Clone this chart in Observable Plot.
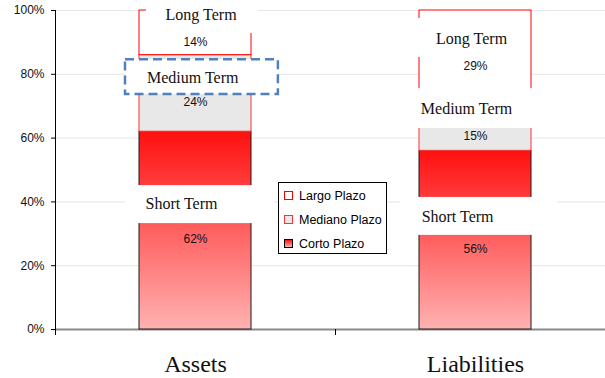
<!DOCTYPE html>
<html>
<head>
<meta charset="utf-8">
<script src="https://cdn.jsdelivr.net/npm/d3@7"></script>
<script src="https://cdn.jsdelivr.net/npm/@observablehq/plot@0.6"></script>
<style>
  html, body { margin: 0; padding: 0; background: #fff; }
  #chart { position: relative; width: 605px; height: 378px; }
  .legend {
    position: absolute; left: 278px; top: 182px; width: 107px; height: 70px;
    border: 1px solid #000; background: #fff;
    font-family: "Liberation Sans", Arial, sans-serif; font-size: 12.5px; color: #000;
  }
  .legend .row { position: absolute; left: 5px; height: 14px; line-height: 14px; white-space: nowrap; }
  .legend .sw { display: inline-block; width: 7px; height: 7px; margin-right: 6px; }
</style>
</head>
<body>
<div id="chart"></div>
<script>
// Balance structure by maturity (% of total)
const categories = ["Assets", "Liabilities"];
const terms = ["Short Term", "Medium Term", "Long Term"];
const shortTerm = [62, 56];
const mediumTerm = [24, 15];
const longTerm = [14, 29];
const yTicks = [0, 20, 40, 60, 80, 100];
const legendLabels = ["Largo Plazo", "Mediano Plazo", "Corto Plazo"];

const seriesByTerm = {"Short Term": shortTerm, "Medium Term": mediumTerm, "Long Term": longTerm};

// stacked rows: one rectangle per category and maturity
const rows = [];
categories.forEach((cat, i) => {
  let base = 0;
  for (const term of terms) {
    const value = seriesByTerm[term][i];
    rows.push({cat, i, term, value, y1: base, y2: base + value});
    base += value;
  }
});

const fills = {"Short Term": "url(#shortFill)", "Medium Term": "#e8e8e8", "Long Term": "#ffffff"};
const strokes = {"Short Term": "#1a1a1a", "Medium Term": "#ff3030", "Long Term": "#ff0000"};
const halfWidth = 0.2;

// white caption boxes placed over the bars
const captions = [
  {text: "Long Term",   x1: 0.325, x2: 0.725, y1: 92.8, y2: 103,  tx: 0.52,  ty: 98.7, dashed: false},
  {text: "Medium Term", x1: 0.25,  x2: 0.796, y1: 73.7, y2: 84.6, tx: 0.49,  ty: 79.0, dashed: true},
  {text: "Short Term",  x1: 0.25,  x2: 0.78,  y1: 33.2, y2: 45.1, tx: 0.45,  ty: 39.5, dashed: false},
  {text: "Long Term",   x1: 1.286, x2: 1.689, y1: 85.3, y2: 97.5, tx: 1.486, ty: 91.2, dashed: false},
  {text: "Medium Term", x1: 1.25,  x2: 1.75,  y1: 63.0, y2: 75.5, tx: 1.468, ty: 69.3, dashed: false},
  {text: "Short Term",  x1: 1.232, x2: 1.793, y1: 29.5, y2: 41.4, tx: 1.436, ty: 35.4, dashed: false}
];

const gradientDefs = () => {
  const defs = d3.create("svg:defs");
  const lg = defs.append("linearGradient")
    .attr("id", "shortFill").attr("x1", 0).attr("y1", 0).attr("x2", 0).attr("y2", 1);
  lg.append("stop").attr("offset", "0%").attr("stop-color", "#ff1010");
  lg.append("stop").attr("offset", "100%").attr("stop-color", "#ffb2b2");
  return defs.node();
};

const serif = "'Liberation Serif', 'Times New Roman', serif";
const sans = "'Liberation Sans', Arial, sans-serif";

const chart = Plot.plot({
  width: 605,
  height: 378,
  marginLeft: 55,
  marginRight: 0,
  marginTop: 10,
  marginBottom: 49,
  style: {background: "white", fontFamily: sans, fontSize: "12px", color: "#000", overflow: "visible"},
  x: {type: "linear", domain: [0, categories.length], range: [55, 615]},
  y: {domain: [0, 100], range: [329, 10]},
  marks: [
    gradientDefs,
    // horizontal gridlines
    Plot.ruleY(yTicks.filter(d => d > 0), {x1: 0, x2: categories.length, stroke: "#e6e6e6"}),
    // category axis line
    Plot.ruleY([0], {x1: 0, x2: categories.length, stroke: "#8a8a8a", strokeWidth: 2}),
    // stacked bars
    Plot.rect(rows, {
      x1: d => d.i + 0.5 - halfWidth,
      x2: d => d.i + 0.5 + halfWidth,
      y1: "y1", y2: "y2",
      fill: d => fills[d.term],
      stroke: d => strokes[d.term],
      strokeWidth: 1
    }),
    // value labels
    Plot.text(rows, {
      x: d => d.i + 0.5,
      y: d => (d.y1 + d.y2) / 2,
      dy: 9,
      text: d => `${d.value}%`,
      fontFamily: sans, fontSize: 12, fill: "#111"
    }),
    // caption boxes
    Plot.rect(captions, {
      x1: "x1", x2: "x2", y1: "y1", y2: "y2",
      fill: "white",
      stroke: d => d.dashed ? "#4f81bd" : "none",
      strokeWidth: 2.5,
      strokeDasharray: "9,5"
    }),
    Plot.text(captions, {
      x: "tx", y: "ty", text: "text",
      fontFamily: serif, fontSize: 16, fill: "#111"
    }),
    // value axis
    Plot.ruleX([0], {y1: 0, y2: 100, stroke: "#000"}),
    Plot.axisY({
      ticks: yTicks, tickFormat: d => `${d}%`, tickSize: 4, tickPadding: 7,
      stroke: "#000", fontFamily: sans, fontSize: 12, fill: "#111"
    }),
    // category boundaries
    Plot.axisX({ticks: d3.range(categories.length + 1), tickSize: 6, tickFormat: () => "", stroke: "#000"}),
    // category names
    Plot.axisX({
      ticks: categories.map((_, i) => i + 0.5),
      tickFormat: v => categories[Math.floor(v)],
      tickSize: 0, tickPadding: 25,
      fontFamily: serif, fontSize: 24, fill: "#111"
    })
  ]
});

const root = document.getElementById("chart");
root.appendChild(chart);

// legend box inside the plot area
const legend = document.createElement("div");
legend.className = "legend";
const swatches = [
  "background:#fff;border:1px solid #ff0000;",
  "background:#e8e8e8;border:1px solid #ff3030;",
  "background:linear-gradient(#ff1010,#ffb2b2);border:1px solid #000;"
];
legendLabels.forEach((label, k) => {
  const row = document.createElement("div");
  row.className = "row";
  row.style.top = (6 + k * 24) + "px";
  row.innerHTML = `<span class="sw" style="${swatches[k]}"></span>${label}`;
  legend.appendChild(row);
});
root.appendChild(legend);
</script>
</body>
</html>
